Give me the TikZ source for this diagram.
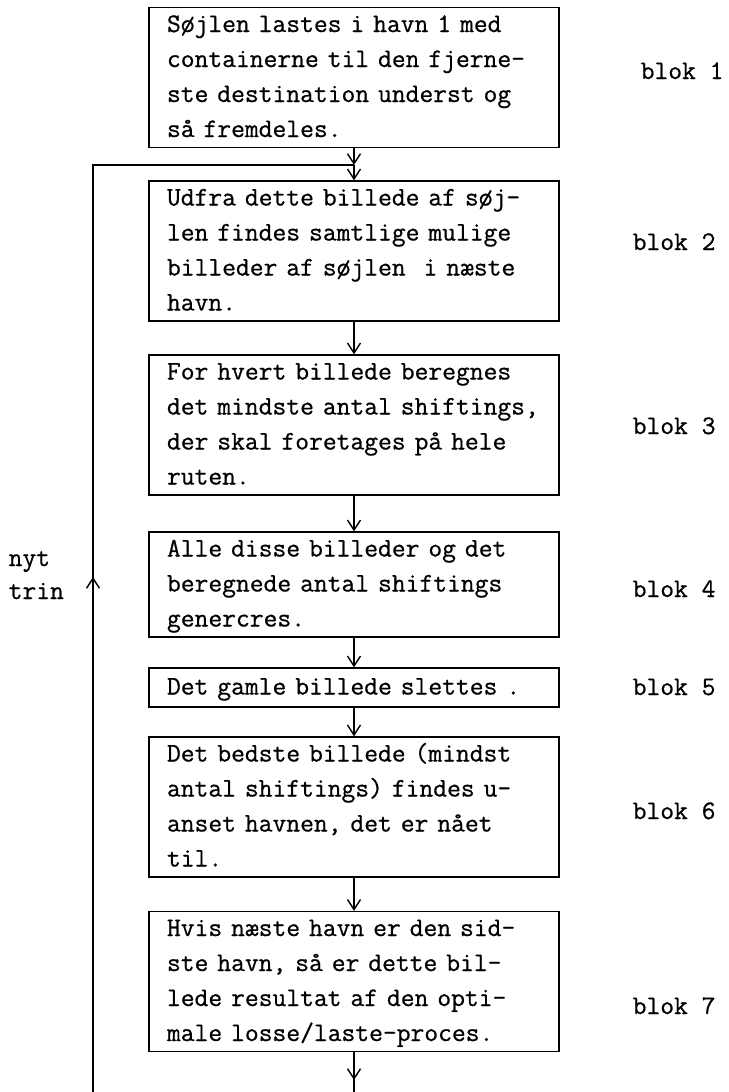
\documentclass[tikz,border=0pt]{standalone}
\usepackage{fontspec}
\usetikzlibrary{arrows.meta}
\newfontfamily\twfam{Latin Modern Mono}[FakeBold=0.7]
\newcommand{\twfont}{\twfam\fontsize{26.8}{35}\selectfont}
\begin{document}
\begin{tikzpicture}[x=1pt,y=-1pt,line width=1.4pt,
  box/.style={draw,rectangle,minimum width=410pt,inner xsep=18pt,inner ysep=0pt,
    text width=374pt,align=left,font=\twfont},
  lbl/.style={font=\twfont,inner sep=0pt,anchor=base west},
  arr/.style={-{Straight Barb[length=10pt,width=13pt]}}]
\useasboundingbox (0,0) rectangle (728,1092);
% boxes
\node[box,minimum height=139pt] (b1) at (354,77.5)
  {\mbox{\strut Søjlen lastes i havn 1 med}\\\mbox{containerne til den fjerne-}\\\mbox{ste destination underst og}\\\mbox{så fremdeles.\strut}};
\node[box,minimum height=138pt] (b2) at (354,251)
  {\mbox{\strut Udfra dette billede af søj-}\\\mbox{len findes samtlige mulige}\\\mbox{billeder af søjlen\ \ i næste}\\\mbox{havn.\strut}};
\node[box,minimum height=136pt] (b3) at (354,425)
  {\mbox{\strut For hvert billede beregnes}\\\mbox{det mindste antal shiftings,}\\\mbox{der skal foretages på hele}\\\mbox{ruten.\strut}};
\node[box,minimum height=105pt] (b4) at (354,584.5)
  {\mbox{\strut Alle disse billeder og det}\\\mbox{beregnede antal shiftings}\\\mbox{genercres.\strut}};
\node[box,minimum height=39pt] (b5) at (354,687.5)
  {\mbox{\strut Det gamle billede slettes .}};
\node[box,minimum height=136pt] (b6) at (354,807)
  {\mbox{\strut Det bedste billede (mindst}\\\mbox{antal shiftings) findes u-}\\\mbox{anset havnen, det er nået}\\\mbox{til.\strut}};
\node[box,minimum height=133pt] (b7) at (354,981.5)
  {\mbox{\strut Hvis næste havn er den sid-}\\\mbox{ste havn, så er dette bil-}\\\mbox{lede resultat af den opti-}\\\mbox{male losse/laste-proces.\strut}};
% labels
\node[lbl] (l1) at (640,79) {blok 1};
\node[lbl] (l2) at (632,250) {blok 2};
\node[lbl] (l3) at (632,434) {blok 3};
\node[lbl] (l4) at (632,597) {blok 4};
\node[lbl] (l5) at (632,695) {blok 5};
\node[lbl] (l6) at (632,819) {blok 6};
\node[lbl] (l7) at (632,1014) {blok 7};
\node[lbl] (n1) at (8,566) {nyt};
\node[lbl] (n2) at (8,599) {trin};
% coordinates
\coordinate (j) at (354,165);
\coordinate (lt) at (93,165);
\coordinate (lb) at (93,1092);
\coordinate (up) at (93,577);
\coordinate (e) at (354,1092);
\coordinate (m7) at (354,1080);
% connectors
\draw[arr] (b1.south) -- (j);
\draw[arr] (j) -- (b2.north);
\draw[arr] (b2.south) -- (b3.north);
\draw[arr] (b3.south) -- (b4.north);
\draw[arr] (b4.south) -- (b5.north);
\draw[arr] (b5.south) -- (b6.north);
\draw[arr] (b6.south) -- (b7.north);
\draw (b7.south) -- (e);
\draw[arr] (b7.south) -- (m7);
\draw (lb) -- (lt) -- (j);
\draw[arr] (lb) -- (up);
\end{tikzpicture}
\end{document}
